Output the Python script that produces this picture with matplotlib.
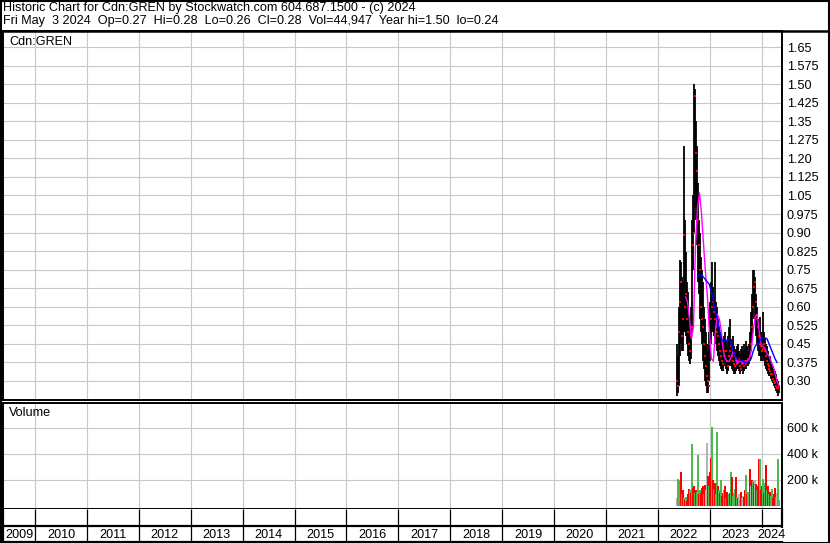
"""
Historic chart for Cdn:GREN (Stockwatch style): price bars with moving
averages on top, volume underneath and a strip of years at the bottom.
"""

import matplotlib

matplotlib.use("Agg")  # no window, just the file
import matplotlib.pyplot as plt
from matplotlib.lines import Line2D
from matplotlib.patches import Rectangle
import pandas as pd

W, H = 830, 543

TITLE_1 = "Historic Chart for Cdn:GREN by Stockwatch.com 604.687.1500 - (c) 2024"
TITLE_2 = ("Fri May  3 2024  Op=0.27  Hi=0.28  Lo=0.26  Cl=0.28  Vol=44,947  "
           "Year hi=1.50  lo=0.24")
SYMBOL = "Cdn:GREN"

# visible date range of the chart
X_START = "2009-05-20"
X_END = "2024-05-24"
YEARS = list(range(2009, 2025))

PRICE_LABELS = ["1.65", "1.575", "1.50", "1.425", "1.35", "1.275", "1.20", "1.125",
                "1.05", "0.975", "0.90", "0.825", "0.75", "0.675", "0.60", "0.525",
                "0.45", "0.375", "0.30"]
VOLUME_TICKS = [200, 400, 600]  # thousands
VOLUME_LABELS = ["200 k", "400 k", "600 k"]

# weekly bars, first week ending on FIRST_WEEK
FIRST_WEEK = "2022-05-13"
highs = [0.45, 0.40, 0.60, 0.79, 0.78, 0.72, 0.70, 1.25, 0.95, 0.82, 0.70, 0.66, 0.55,
         0.50, 0.55, 0.60, 0.95, 1.05, 1.50, 1.48, 1.35, 1.25, 1.10, 0.95, 0.90, 0.80,
         0.75, 0.70, 0.60, 0.55, 0.50, 0.45, 0.42, 0.50, 0.62, 0.70, 0.78, 0.68, 0.64,
         0.78, 0.62, 0.60, 0.55, 0.52, 0.50, 0.48, 0.46, 0.45, 0.48, 0.50, 0.46, 0.44,
         0.48, 0.52, 0.55, 0.47, 0.45, 0.48, 0.44, 0.43, 0.42, 0.44, 0.45, 0.42, 0.41,
         0.43, 0.44, 0.42, 0.45, 0.43, 0.46, 0.44, 0.42, 0.45, 0.50, 0.58, 0.65, 0.75,
         0.75, 0.72, 0.65, 0.60, 0.55, 0.52, 0.56, 0.50, 0.48, 0.58, 0.50, 0.47, 0.45,
         0.44, 0.42, 0.40, 0.40, 0.38, 0.37, 0.36, 0.35, 0.34, 0.33, 0.31, 0.30, 0.28]
lows = [0.24, 0.25, 0.28, 0.40, 0.45, 0.42, 0.42, 0.50, 0.50, 0.48, 0.45, 0.40, 0.38,
        0.37, 0.39, 0.45, 0.50, 0.75, 0.90, 1.00, 0.95, 0.85, 0.70, 0.65, 0.55, 0.50,
        0.45, 0.38, 0.35, 0.30, 0.28, 0.25, 0.25, 0.30, 0.38, 0.45, 0.50, 0.50, 0.48,
        0.47, 0.45, 0.42, 0.40, 0.38, 0.36, 0.35, 0.34, 0.34, 0.36, 0.38, 0.35, 0.33,
        0.34, 0.36, 0.37, 0.36, 0.35, 0.34, 0.33, 0.33, 0.34, 0.35, 0.35, 0.34, 0.33,
        0.34, 0.35, 0.33, 0.34, 0.35, 0.35, 0.36, 0.36, 0.37, 0.38, 0.42, 0.48, 0.55,
        0.60, 0.55, 0.48, 0.45, 0.42, 0.40, 0.40, 0.38, 0.38, 0.40, 0.38, 0.36, 0.35,
        0.34, 0.33, 0.32, 0.32, 0.31, 0.30, 0.29, 0.28, 0.27, 0.26, 0.25, 0.24, 0.25]
closes = [0.30, 0.28, 0.50, 0.62, 0.70, 0.48, 0.55, 0.89, 0.60, 0.65, 0.55, 0.50, 0.45,
          0.42, 0.48, 0.52, 0.85, 0.90, 1.45, 1.22, 1.15, 0.95, 0.85, 0.75, 0.60, 0.55,
          0.52, 0.45, 0.40, 0.36, 0.32, 0.30, 0.28, 0.45, 0.55, 0.60, 0.62, 0.58, 0.55,
          0.52, 0.50, 0.48, 0.45, 0.42, 0.40, 0.38, 0.37, 0.40, 0.42, 0.42, 0.38, 0.36,
          0.40, 0.42, 0.44, 0.40, 0.38, 0.37, 0.36, 0.38, 0.37, 0.38, 0.39, 0.36, 0.35,
          0.37, 0.38, 0.36, 0.38, 0.37, 0.38, 0.39, 0.39, 0.40, 0.45, 0.52, 0.60, 0.68,
          0.70, 0.62, 0.55, 0.52, 0.48, 0.45, 0.44, 0.42, 0.43, 0.45, 0.42, 0.40, 0.38,
          0.37, 0.36, 0.35, 0.34, 0.33, 0.33, 0.31, 0.30, 0.29, 0.28, 0.27, 0.27, 0.28]

# volume per week in thousands, g = up, r = down, n = unchanged
volume_k = [60, 210, 200, 150, 260, 90, 120, 60, 50, 70, 40, 90, 130, 120, 100, 70, 480,
            140, 150, 100, 120, 110, 390, 90, 120, 100, 140, 150, 90, 160, 120, 485, 230,
            150, 260, 370, 608, 200, 130, 180, 90, 570, 150, 120, 100, 200, 80, 100, 120,
            150, 60, 110, 80, 90, 100, 262, 224, 80, 100, 130, 223, 70, 60, 90, 50, 110,
            60, 80, 70, 120, 238, 90, 110, 100, 285, 150, 200, 190, 180, 200, 170, 120,
            150, 362, 360, 120, 150, 210, 100, 180, 315, 120, 150, 90, 110, 80, 130, 60,
            90, 140, 70, 100, 360, 50]
volume_dir = list("ngggrgrgrgrrrgrggrrgrggrgrrrgrnnrgrrgrgrggrgrgrrgrgrrgrgrgggrgrngrgnrrgr"
                  "ggrnrgrnrgrrgrrgrgrgrgrggrrrg")

# short moving average (magenta), one point every 2 weeks
MA_SHORT_START = "2022-07-15"
ma_short = [0.64, 0.62, 0.55, 0.47, 0.52, 0.85, 1.00, 1.06, 0.98, 0.86, 0.74, 0.64,
            0.50, 0.39, 0.38, 0.50, 0.57, 0.55, 0.50, 0.42, 0.39, 0.38, 0.38, 0.40,
            0.42, 0.40, 0.37, 0.38, 0.38, 0.37, 0.38, 0.38, 0.39, 0.42, 0.50, 0.56,
            0.57, 0.50, 0.45, 0.44, 0.43, 0.41, 0.40, 0.38, 0.36, 0.33, 0.30, 0.28]

# long moving average (blue), one point every 2 weeks
MA_LONG_START = "2022-10-07"
ma_long = [0.72, 0.73, 0.73, 0.72, 0.71, 0.70, 0.69, 0.66, 0.62, 0.58, 0.55, 0.51,
           0.47, 0.46, 0.465, 0.465, 0.47, 0.45, 0.42, 0.40, 0.39, 0.385, 0.385, 0.38,
           0.375, 0.375, 0.38, 0.39, 0.42, 0.44, 0.45, 0.46, 0.47, 0.475, 0.475, 0.47,
           0.45, 0.43, 0.41, 0.39, 0.375]

GRID = "#c8c8c8"
GREEN = "#50b850"
RED = "#ff0000"
GREY = "#b4b4b4"
MAGENTA = "#ff00ff"
BLUE = "#0000ff"
FONT = "Liberation Sans"
FS = 9.1


def _rect(top, bottom, left=3, right=782):
    return [left / W, 1 - bottom / H, (right - left) / W, (bottom - top) / H]


def _frame(ax, lw=1.6):
    for s in ax.spines.values():
        s.set_color("black")
        s.set_linewidth(lw)


def main():
    plt.rcParams["font.family"] = FONT
    fig = plt.figure(figsize=(W / 100, H / 100), dpi=100)
    fig.patch.set_facecolor("white")

    x0, x1 = pd.Timestamp(X_START), pd.Timestamp(X_END)
    year_starts = [pd.Timestamp(f"{y}-01-01") for y in YEARS[1:]]

    weeks = pd.date_range(FIRST_WEEK, periods=len(highs), freq="7D")
    ma_s_dates = pd.date_range(MA_SHORT_START, periods=len(ma_short), freq="14D")
    ma_l_dates = pd.date_range(MA_LONG_START, periods=len(ma_long), freq="14D")

    # --- header ---
    fig.text(3 / W, 1 - 8 / H, TITLE_1, fontsize=FS, va="center", ha="left")
    fig.text(3 / W, 1 - 21 / H, TITLE_2, fontsize=FS, va="center", ha="left")
    fig.add_artist(Line2D([0, 1], [1 - 31 / H] * 2, color="black", lw=1.8,
                          transform=fig.transFigure))
    fig.add_artist(Rectangle((0.5 / W, 0.5 / H), 1 - 1.5 / W, 1 - 1.5 / H, fill=False,
                             edgecolor="black", lw=1.5, transform=fig.transFigure))

    # --- price panel ---
    ax_p = fig.add_axes(_rect(31, 400))
    ax_p.set_xlim(x0, x1)
    ax_p.set_ylim(0.2232, 1.7147)
    niveles = [float(t) for t in PRICE_LABELS]
    ax_p.set_yticks(niveles)
    ax_p.set_yticklabels(PRICE_LABELS)
    ax_p.yaxis.tick_right()
    ax_p.tick_params(axis="y", length=0, pad=3.5, labelsize=FS)
    ax_p.set_xticks(year_starts)
    ax_p.tick_params(axis="x", length=0, labelbottom=False)
    ax_p.grid(color=GRID, lw=0.8)
    ax_p.set_axisbelow(True)

    ax_p.vlines(weeks, lows, highs, color="black", lw=1.3)
    ax_p.plot(weeks + pd.Timedelta(days=3), closes, "s", color=RED, ms=1.5, mew=0)
    ax_p.plot(ma_s_dates, ma_short, color=MAGENTA, lw=1.0)
    ax_p.plot(ma_l_dates, ma_long, color=BLUE, lw=1.0)
    ax_p.text(6 / 779, 1 - 11 / 369, SYMBOL, transform=ax_p.transAxes, fontsize=FS,
              va="center", ha="left")
    _frame(ax_p, lw=1.4)

    # --- volume panel ---
    ax_v = fig.add_axes(_rect(403, 509))
    ax_v.set_xlim(x0, x1)
    ax_v.set_ylim(-23, 792)
    colores = {"g": GREEN, "r": RED, "n": GREY}
    ax_v.bar(weeks, volume_k, width=14, color=[colores[c] for c in volume_dir],
             linewidth=0, antialiased=False)
    ax_v.set_yticks(VOLUME_TICKS)
    ax_v.set_yticklabels(VOLUME_LABELS)
    ax_v.yaxis.tick_right()
    ax_v.tick_params(axis="y", length=0, pad=3.5, labelsize=FS)
    ax_v.set_xticks(year_starts)
    ax_v.tick_params(axis="x", length=0, labelbottom=False)
    ax_v.grid(color=GRID, lw=0.8)
    ax_v.set_axisbelow(True)
    ax_v.text(6 / 779, 1 - 10 / 106, "Volume", transform=ax_v.transAxes, fontsize=FS,
              va="center", ha="left")
    _frame(ax_v, lw=1.4)

    # --- strip of years ---
    ax_y = fig.add_axes(_rect(509, 542))
    ax_y.set_xlim(x0, x1)
    ax_y.set_ylim(0, 33)
    ax_y.set_xticks([])
    ax_y.set_yticks([])
    ax_y.axhline(16, color="black", lw=1.6)
    ax_y.vlines(year_starts, 0, 33, color="black", lw=0.9)
    limites = [x0] + year_starts + [x1]
    for year, a, b in zip(YEARS, limites[:-1], limites[1:]):
        centro = a + (b - a) / 2
        ax_y.text(centro, 7.5, str(year), fontsize=FS, ha="center", va="center",
                  bbox=dict(facecolor="white", edgecolor="none", pad=0.2)
                  if year == YEARS[-1] else None)
    _frame(ax_y)
    ax_y.spines["top"].set_visible(False)

    fig.savefig("out.png", dpi=100)
    plt.close(fig)


if __name__ == "__main__":
    main()
